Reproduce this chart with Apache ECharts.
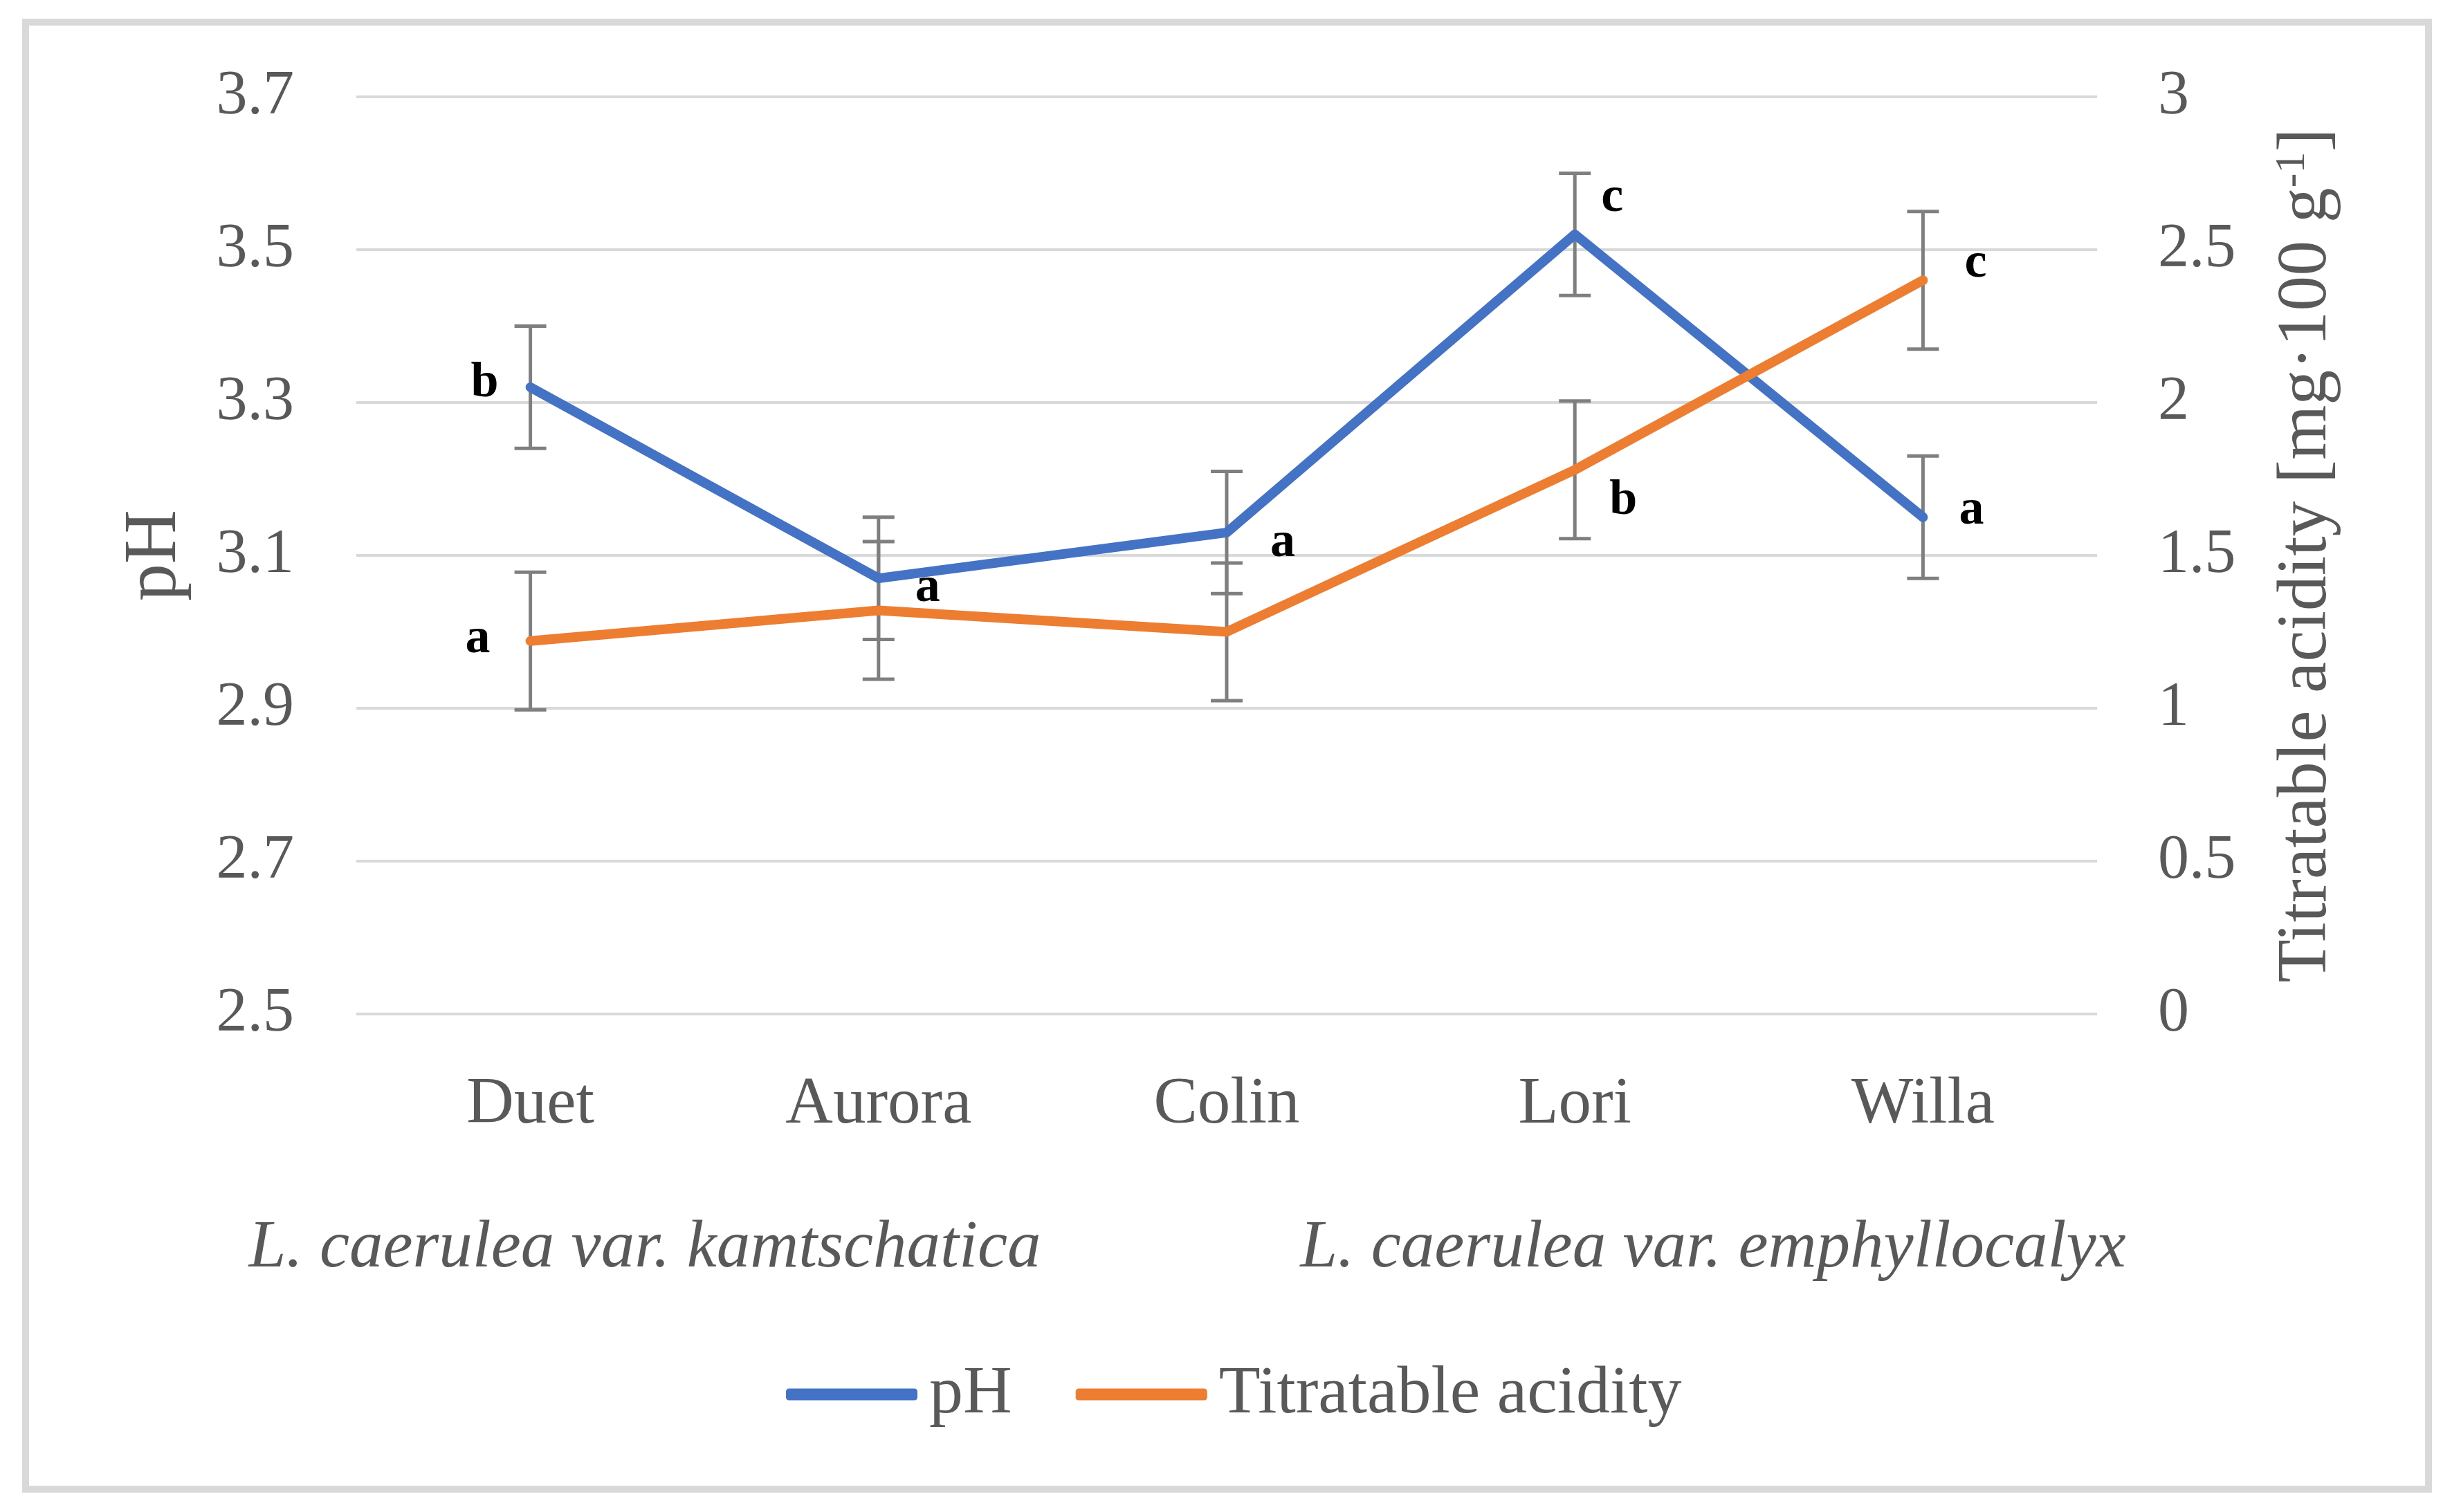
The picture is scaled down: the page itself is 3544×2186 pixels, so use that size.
<!DOCTYPE html>
<html><head><meta charset="utf-8">
<script src="https://cdn.jsdelivr.net/npm/echarts@6/dist/echarts.min.js"></script>
<style>html,body{margin:0;padding:0;background:#fff}#c{width:3544px;height:2186px}</style>
</head><body><div id="c"></div>
<script>
// ---- data ----
const categories = ['Duet', 'Aurora', 'Colin', 'Lori', 'Willa'];
const pHValues = [3.32, 3.07, 3.13, 3.52, 3.15];
const pHErrors = [0.08, 0.08, 0.08, 0.08, 0.08];
const pHLetters = ['b', 'a', 'a', 'c', 'a'];
const taValues = [1.22, 1.32, 1.25, 1.78, 2.40];
const taErrors = [0.225, 0.225, 0.225, 0.225, 0.225];
const taLetters = ['a', '', '', 'b', 'c'];
const leftTickLabels = ['2.5', '2.7', '2.9', '3.1', '3.3', '3.5', '3.7'];
const rightTickLabels = ['0', '0.5', '1', '1.5', '2', '2.5', '3'];
const groupLabels = ['L. caerulea var. kamtschatica', 'L. caerulea var. emphyllocalyx'];

// ---- layout (not data) ----
const FONT = '"Liberation Serif", "DejaVu Serif", serif';
const TXT = '#595959';
const pHLetterLayout = [
  {dx: -46, dy: -5, align: 'right'}, {dx: 53, dy: 14, align: 'left'}, {dx: 63, dy: 16, align: 'left'},
  {dx: 38, dy: -52, align: 'left'}, {dx: 52, dy: -9, align: 'left'}];
const taLetterLayout = [
  {dx: -58, dy: -2, align: 'right'}, null, null,
  {dx: 50, dy: 45, align: 'left'}, {dx: 60, dy: -24, align: 'left'}];

function errorBarRender(params, api) {
  const i = api.value(0), v = api.value(1), e = api.value(2);
  const t = api.coord([i, v + e]);
  const b = api.coord([i, v - e]);
  const hw = 23;
  const style = {stroke: '#7f7f7f', lineWidth: 5};
  return {type: 'group', children: [
    {type: 'line', shape: {x1: t[0], y1: t[1], x2: b[0], y2: b[1]}, style},
    {type: 'line', shape: {x1: t[0] - hw, y1: t[1], x2: t[0] + hw, y2: t[1]}, style},
    {type: 'line', shape: {x1: b[0] - hw, y1: b[1], x2: b[0] + hw, y2: b[1]}, style}
  ]};
}
function letterRender(letters, layout) {
  return function (params, api) {
    const i = api.value(0), v = api.value(1);
    const L = layout[i];
    if (!L || !letters[i]) return null;
    const p = api.coord([i, v]);
    return {type: 'text', x: p[0] + L.dx, y: p[1] + L.dy, style: {
      text: letters[i], fill: '#000', fontSize: 72, fontWeight: 'bold', fontFamily: FONT,
      align: L.align, verticalAlign: 'middle'}};
  };
}

const chart = echarts.init(document.getElementById('c'), null, {renderer: 'canvas'});
chart.setOption({
  animation: false,
  backgroundColor: '#fff',
  grid: {left: 515, right: 513, top: 140, bottom: 720, containLabel: false},
  legend: {
    data: ['pH', 'Titratable acidity'],
    left: 1131, top: 1962,
    icon: 'roundRect', itemWidth: 190, itemHeight: 17, itemGap: 92,
    textStyle: {fontSize: 98, fontFamily: FONT, color: TXT, padding: [0, 0, 0, 12]}
  },
  xAxis: {
    type: 'category', data: categories, boundaryGap: true,
    axisLine: {show: false}, axisTick: {show: false},
    axisLabel: {fontSize: 95, fontFamily: FONT, color: TXT, margin: 85}
  },
  yAxis: [
    {
      type: 'value', min: 2.5, max: 3.7, interval: 0.1, position: 'left',
      name: 'pH', nameLocation: 'middle', nameRotate: 90, nameGap: 236,
      nameTextStyle: {fontSize: 108, fontFamily: FONT, color: TXT},
      axisLine: {show: false}, axisTick: {show: false}, splitLine: {show: false},
      axisLabel: {fontSize: 90, fontFamily: FONT, color: TXT, margin: 90,
        formatter: v => { const s = v.toFixed(1); return leftTickLabels.includes(s) ? s : ''; }}
    },
    {
      type: 'value', min: 0, max: 3, interval: 0.5, position: 'right',
      name: 'Titratable acidity [mg·100 g{sup|-1}]', nameLocation: 'middle', nameRotate: 90, nameGap: 252,
      nameTextStyle: {fontSize: 102, fontFamily: FONT, color: TXT,
        rich: {sup: {fontSize: 62, fontFamily: FONT, color: TXT, verticalAlign: 'top', padding: [0, 0, 40, 0]}}},
      axisLine: {show: false}, axisTick: {show: false},
      splitLine: {show: true, lineStyle: {color: '#d9d9d9', width: 4}},
      axisLabel: {fontSize: 90, fontFamily: FONT, color: TXT, margin: 88,
        formatter: v => { const s = String(v); return rightTickLabels.includes(s) ? s : ''; }}
    }
  ],
  graphic: [
    {type: 'rect', shape: {x: 37, y: 32, width: 3473, height: 2121},
      style: {fill: 'none', stroke: '#d9d9d9', lineWidth: 10}, z: 0, silent: true},
    {type: 'text', x: 932, y: 1805, style: {text: groupLabels[0], fontSize: 97, fontStyle: 'italic',
      fontFamily: FONT, fill: TXT, align: 'center', verticalAlign: 'middle'}},
    {type: 'text', x: 2476, y: 1805, style: {text: groupLabels[1], fontSize: 97, fontStyle: 'italic',
      fontFamily: FONT, fill: TXT, align: 'center', verticalAlign: 'middle'}}
  ],
  series: [
    {type: 'custom', name: 'pH err', yAxisIndex: 0, z: 2, renderItem: errorBarRender,
      encode: {x: 0, y: 1}, data: pHValues.map((v, i) => [i, v, pHErrors[i]])},
    {type: 'custom', name: 'TA err', yAxisIndex: 1, z: 2, renderItem: errorBarRender,
      encode: {x: 0, y: 1}, data: taValues.map((v, i) => [i, v, taErrors[i]])},
    {type: 'line', name: 'pH', yAxisIndex: 0, z: 3, data: pHValues, symbol: 'none',
      itemStyle: {color: '#4472C4'},
      lineStyle: {color: '#4472C4', width: 14, cap: 'round', join: 'round'}},
    {type: 'line', name: 'Titratable acidity', yAxisIndex: 1, z: 3, data: taValues, symbol: 'none',
      itemStyle: {color: '#ED7D31'},
      lineStyle: {color: '#ED7D31', width: 14, cap: 'round', join: 'round'}},
    {type: 'custom', name: 'pH letters', yAxisIndex: 0, z: 5, renderItem: letterRender(pHLetters, pHLetterLayout),
      encode: {x: 0, y: 1}, data: pHValues.map((v, i) => [i, v])},
    {type: 'custom', name: 'TA letters', yAxisIndex: 1, z: 5, renderItem: letterRender(taLetters, taLetterLayout),
      encode: {x: 0, y: 1}, data: taValues.map((v, i) => [i, v])}
  ]
});
</script></body></html>
